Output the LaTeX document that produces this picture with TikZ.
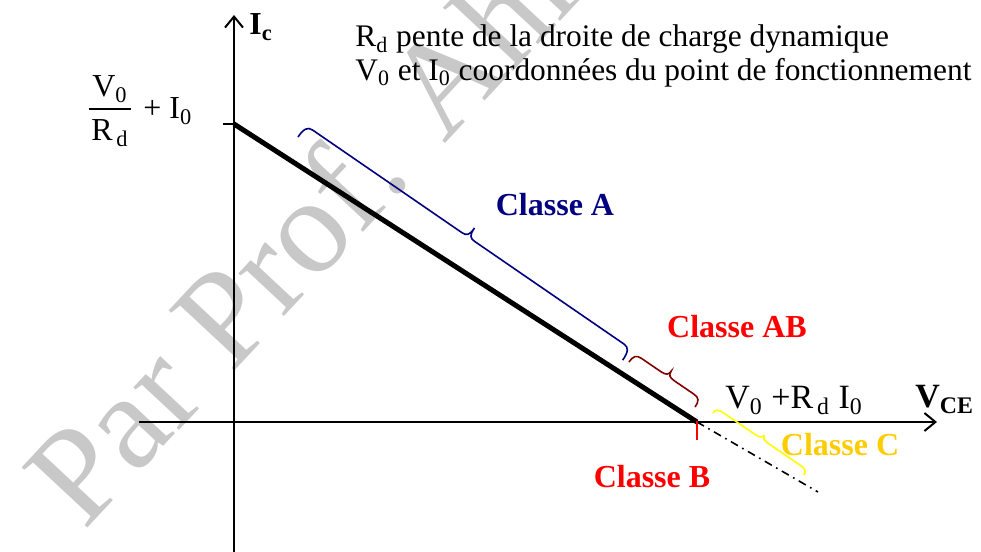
\documentclass[tikz,border=0pt]{standalone}
\usepackage{fontspec}
\setmainfont{Liberation Serif}
\usetikzlibrary{arrows.meta}

\definecolor{classA}{RGB}{0,0,128}
\definecolor{classAB}{RGB}{128,0,0}
\definecolor{classB}{RGB}{255,0,0}
\definecolor{braceC}{RGB}{255,255,0}
\definecolor{classC}{RGB}{255,204,0}
\definecolor{filigrane}{RGB}{200,200,200}

\newcommand{\setsz}[1]{\fontsize{#1}{#1}\selectfont}
% brace as drawn by Word: length, height of the body, height of the tip
\newcommand{\wordbrace}[3]{%
  (0,0) .. controls (0,0.7*#2) and (2,#2) .. (8,#2)
  -- ({#1/2-8},#2) .. controls ({#1/2-2},#2) and ({#1/2},{#2+2}) .. ({#1/2},#3)
  .. controls ({#1/2},{#2+2}) and ({#1/2+2},#2) .. ({#1/2+8},#2)
  -- ({#1-8},#2) .. controls ({#1-2},#2) and (#1,0.7*#2) .. (#1,0)}

\begin{document}
\begin{tikzpicture}[x=0.5pt,y=0.5pt,
  axis/.style={line width=1pt,-{Straight Barb[length=5.5pt,width=9pt]}},
  loadline/.style={line width=2.5pt},
  prolong/.style={line width=0.8pt,dash pattern=on 4pt off 2.5pt on 0.8pt off 2.5pt},
  txt/.style={inner sep=0pt,font=\setsz{15.7}},
  classe/.style={inner sep=0pt,font=\setsz{16}\bfseries}]
\useasboundingbox (0,0) rectangle (981,552);
% filigrane
\begin{scope}
\clip (0,0) rectangle (981,552);
\node[anchor=base west,inner sep=0pt,rotate=47,text=filigrane,font=\setsz{68}] (wm) at (84,20) {Par Prof. Ahm};
\end{scope}
% axes
\coordinate (O) at (234,130);
\coordinate (xbeg) at (139,130);
\coordinate (xend) at (937,130);
\coordinate (ybot) at (234,0);
\coordinate (ytop) at (234,537);
\coordinate (Imax) at (234,428);
\coordinate (Vmax) at (697,130);
\coordinate (tail) at (818,60);
\draw[axis] (xbeg) -- (xend);
\draw[axis] (ybot) -- (ytop);
\draw[line width=1pt] (Imax) -- ++(-11,0);
% droite de charge
\draw[loadline] (Imax) -- (Vmax);
\draw[prolong] (Vmax) -- (tail);
\draw[classB,line width=0.8pt] (Vmax) ++(0,1) -- ++(0,-19);
% accolades
\draw[classA,line width=0.8pt,shift={(298,415)},rotate=-34.5] \wordbrace{394}{14}{25};
\draw[classAB,line width=0.8pt,shift={(629,190)},rotate=-34.3] \wordbrace{80}{10}{16};
\draw[braceC,line width=0.8pt,shift={(713,139)},rotate=-34.3] \wordbrace{110}{6}{10};
% textes
\node[txt,anchor=base west,font=\setsz{16}\bfseries] (ic) at (249,517) {I\textsubscript{c}};
\node[txt,anchor=base west] (rd) at (355,505) {R\textsubscript{d} pente de la droite de charge dynamique};
\node[txt,anchor=base west] (vi) at (355,471) {V\textsubscript{0} et I\textsubscript{0} coordonnées du point de fonctionnement};
\node[txt,anchor=base,font=\setsz{16}] (num) at (110,455) {V\textsubscript{0}};
\node[txt,anchor=base,font=\setsz{16}] (den) at (110,411) {R\textsubscript{\,d}};
\draw[line width=0.6pt] (89,443) -- (131,443);
\node[txt,anchor=base west,font=\setsz{16}] (plus) at (143,433) {+\ I\textsubscript{0}};
\node[txt,anchor=base west,font=\setsz{17}] (vmax) at (725,143) {V\textsubscript{0}\ +R\textsubscript{\,d}\ I\textsubscript{0}};
\node[txt,anchor=base west,font=\setsz{17}\bfseries] (vce) at (915,144) {V\textsubscript{CE}};
\node[classe,text=classA] (ca) at (555,347) {Classe A};
\node[classe,text=classB] (cab) at (737,225) {Classe AB};
\node[classe,text=classB] (cb) at (652,75) {Classe B};
\node[classe,text=classC] (cc) at (840,107) {Classe C};
\end{tikzpicture}
\end{document}
